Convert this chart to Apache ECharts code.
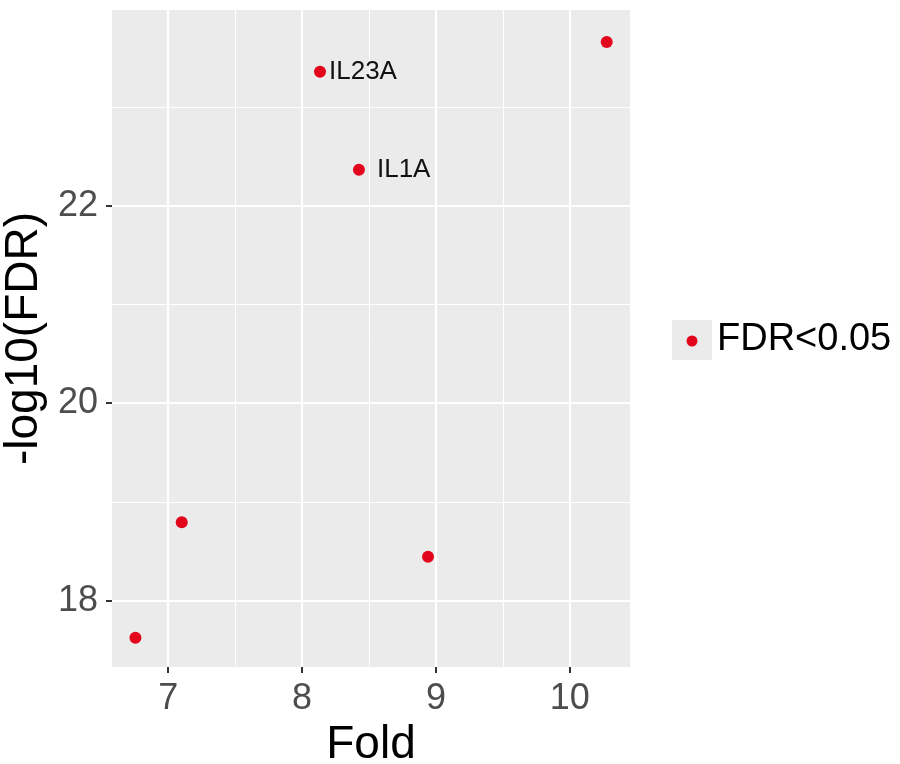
<!DOCTYPE html>
<html>
<head>
<meta charset="utf-8">
<script src="https://cdn.jsdelivr.net/npm/echarts@6.0.0/dist/echarts.min.js"></script>
<style>html,body{margin:0;padding:0;background:#fff;}#c{width:900px;height:764px;}</style>
</head>
<body>
<div id="c"></div>
<script>
// Data
var genes = ['', '', '', 'IL23A', 'IL1A', ''];
var foldValues = [6.755, 7.101, 8.941, 8.134, 8.425, 10.276];
var fdrValues = [17.626, 18.795, 18.447, 23.354, 22.364, 23.657];
var xTicks = [7, 8, 9, 10];
var xMinor = [7.5, 8.5, 9.5];
var yTicks = [18, 20, 22];
var yMinor = [19, 21, 23];
var seriesName = 'FDR<0.05';

var FONT = 'Liberation Sans, Arial, Helvetica, sans-serif';
var RED = '#e3051b';
var labelGap = { 'IL23A': 3, 'IL1A': 12 };

var points = foldValues.map(function (f, i) {
  var item = { value: [f, fdrValues[i]], name: genes[i] };
  if (labelGap[genes[i]] != null) item.label = { distance: labelGap[genes[i]] };
  return item;
});

function vLines(vals, w) {
  return vals.map(function (v) { return { xAxis: v, lineStyle: { width: w } }; });
}
function hLines(vals, w) {
  return vals.map(function (v) { return { yAxis: v, lineStyle: { width: w } }; });
}

var iconSvg = "<svg xmlns='http://www.w3.org/2000/svg' width='40' height='40'><rect width='40' height='40' fill='#EBEBEB'/><circle cx='20' cy='21' r='5.5' fill='" + RED + "'/></svg>";
var icon = 'image://data:image/svg+xml;charset=utf-8,' + encodeURIComponent(iconSvg);

var chart = echarts.init(document.getElementById('c'), null, { renderer: 'canvas' });
chart.setOption({
  animation: false,
  backgroundColor: '#ffffff',
  grid: {
    left: 112, top: 10, width: 518, height: 657,
    show: true, backgroundColor: '#EBEBEB', borderWidth: 0,
    outerBoundsMode: 'none', containLabel: false
  },
  legend: {
    left: 667, top: 315,
    data: [{ name: seriesName, icon: icon }],
    itemWidth: 40, itemHeight: 40,
    textStyle: { fontFamily: FONT, fontSize: 38, color: '#000' },
    selectedMode: false
  },
  xAxis: {
    type: 'value', min: 6.58, max: 10.45,
    name: 'Fold', nameLocation: 'middle', nameGap: 50,
    nameTextStyle: { fontFamily: FONT, fontSize: 46, color: '#000' },
    axisLine: { show: false },
    axisTick: { show: true, length: 6, lineStyle: { color: '#333', width: 2 }, customValues: xTicks },
    axisLabel: { customValues: xTicks, fontFamily: FONT, fontSize: 36, color: '#4D4D4D', margin: 14 },
    splitLine: { show: false }
  },
  yAxis: {
    type: 'value', min: 17.33, max: 23.98,
    name: '-log10(FDR)', nameLocation: 'middle', nameGap: 58,
    nameTextStyle: { fontFamily: FONT, fontSize: 46, color: '#000' },
    axisLine: { show: false },
    axisTick: { show: true, length: 6, lineStyle: { color: '#333', width: 2 }, customValues: yTicks },
    axisLabel: { customValues: yTicks, fontFamily: FONT, fontSize: 36, color: '#4D4D4D', margin: 14 },
    splitLine: { show: false }
  },
  series: [
    {
      type: 'scatter', name: '__grid', data: [], z: 1, silent: true,
      markLine: {
        silent: true, symbol: ['none', 'none'], animation: false,
        label: { show: false },
        lineStyle: { color: '#ffffff', type: 'solid', opacity: 1 },
        emphasis: { disabled: true },
        data: [].concat(vLines(xMinor, 1), hLines(yMinor, 1), vLines(xTicks, 2.2), hLines(yTicks, 2.2))
      }
    },
    {
      type: 'scatter', name: seriesName, data: points, z: 5,
      symbol: 'circle', symbolSize: 12,
      itemStyle: { color: RED, opacity: 1 },
      label: {
        show: true, position: 'right', distance: 4,
        formatter: function (p) { return p.name; },
        fontFamily: FONT, fontSize: 26, color: '#111'
      }
    }
  ]
});
</script>
</body>
</html>
